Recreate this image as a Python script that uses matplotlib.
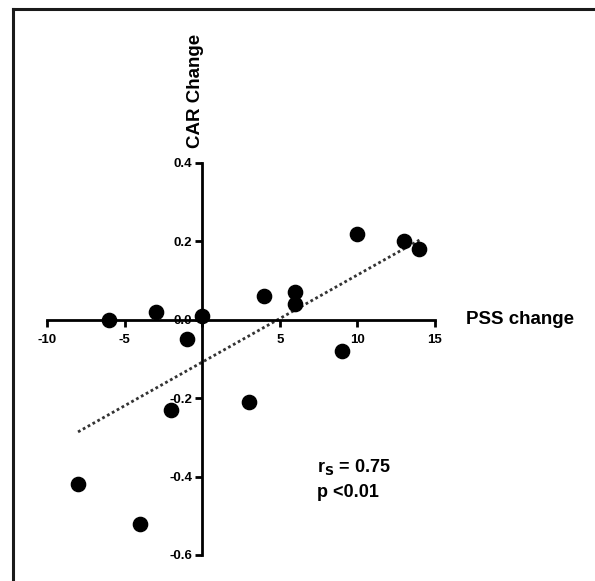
import matplotlib.pyplot as plt
import numpy as np
from matplotlib.lines import Line2D

plt.rcParams['font.family'] = ['Liberation Sans', 'DejaVu Sans']
plt.rcParams['font.weight'] = 'bold'

# PSS change vs CAR change
pss = [-8, -4, -6, -3, -1, 0, -2, 3, 4, 6, 6, 9, 10, 13, 14]
car = [-0.42, -0.52, 0.00, 0.02, -0.05, 0.01, -0.23, -0.21, 0.06, 0.07, 0.04, -0.08, 0.22, 0.20, 0.18]
xticks = [-10, -5, 0, 5, 10, 15]
xlabels = ['-10', '-5', '', '5', '10', '15']
yticks = [-0.6, -0.4, -0.2, 0.0, 0.2, 0.4]
ylabels = ['-0.6', '-0.4', '-0.2', '0.0', '0.2', '0.4']

fig = plt.figure(figsize=(5.95, 5.81), dpi=100)
ax = fig.add_axes([0.079, 0.0448, 0.652, 0.6747])

x = np.array(pss)
y = np.array(car)
ax.scatter(x, y, s=105, color='black', zorder=3, clip_on=False)

slope, icpt = np.polyfit(x, y, 1)
xl = np.array([x.min(), x.max()])
ax.plot(xl, slope * xl + icpt, linestyle=(0, (1, 1)), color='#333333', linewidth=2, zorder=2)

ax.set_xlim(-10, 15)
ax.set_ylim(-0.6, 0.4)
ax.spines['left'].set_position(('data', 0))
ax.spines['bottom'].set_position(('data', 0))
ax.spines['right'].set_visible(False)
ax.spines['top'].set_visible(False)
for s in ['left', 'bottom']:
    ax.spines[s].set_linewidth(2)
ax.set_xticks(xticks)
ax.set_xticklabels(xlabels)
ax.set_yticks(yticks)
ax.set_yticklabels(ylabels)
ax.tick_params(direction='out', length=5, width=2, labelsize=9.5, pad=2)
ax.tick_params(axis='x', pad=5)
for lab in ax.get_xticklabels() + ax.get_yticklabels():
    lab.set_fontweight('bold')

ax.text(-0.4, 0.438, 'CAR Change', rotation=90, ha='center', va='bottom', fontsize=13.5, fontweight='bold')
ax.text(17.0, 0.0, 'PSS change', ha='left', va='center', fontsize=13.5, fontweight='bold')
ax.text(7.4, -0.375, r'r$_\mathbf{S}$ = 0.75', ha='left', va='center', fontsize=13, fontweight='bold')
ax.text(7.4, -0.44, 'p <0.01', ha='left', va='center', fontsize=13, fontweight='bold')

# frame lines on the left and top of the picture
fig.add_artist(Line2D([0.0218, 0.0218], [0, 0.9845], color='#1a1a1a', linewidth=2.2, transform=fig.transFigure))
fig.add_artist(Line2D([0.0218, 1.0], [0.9845, 0.9845], color='#1a1a1a', linewidth=2.2, transform=fig.transFigure))

plt.savefig('out.png', dpi=100)
